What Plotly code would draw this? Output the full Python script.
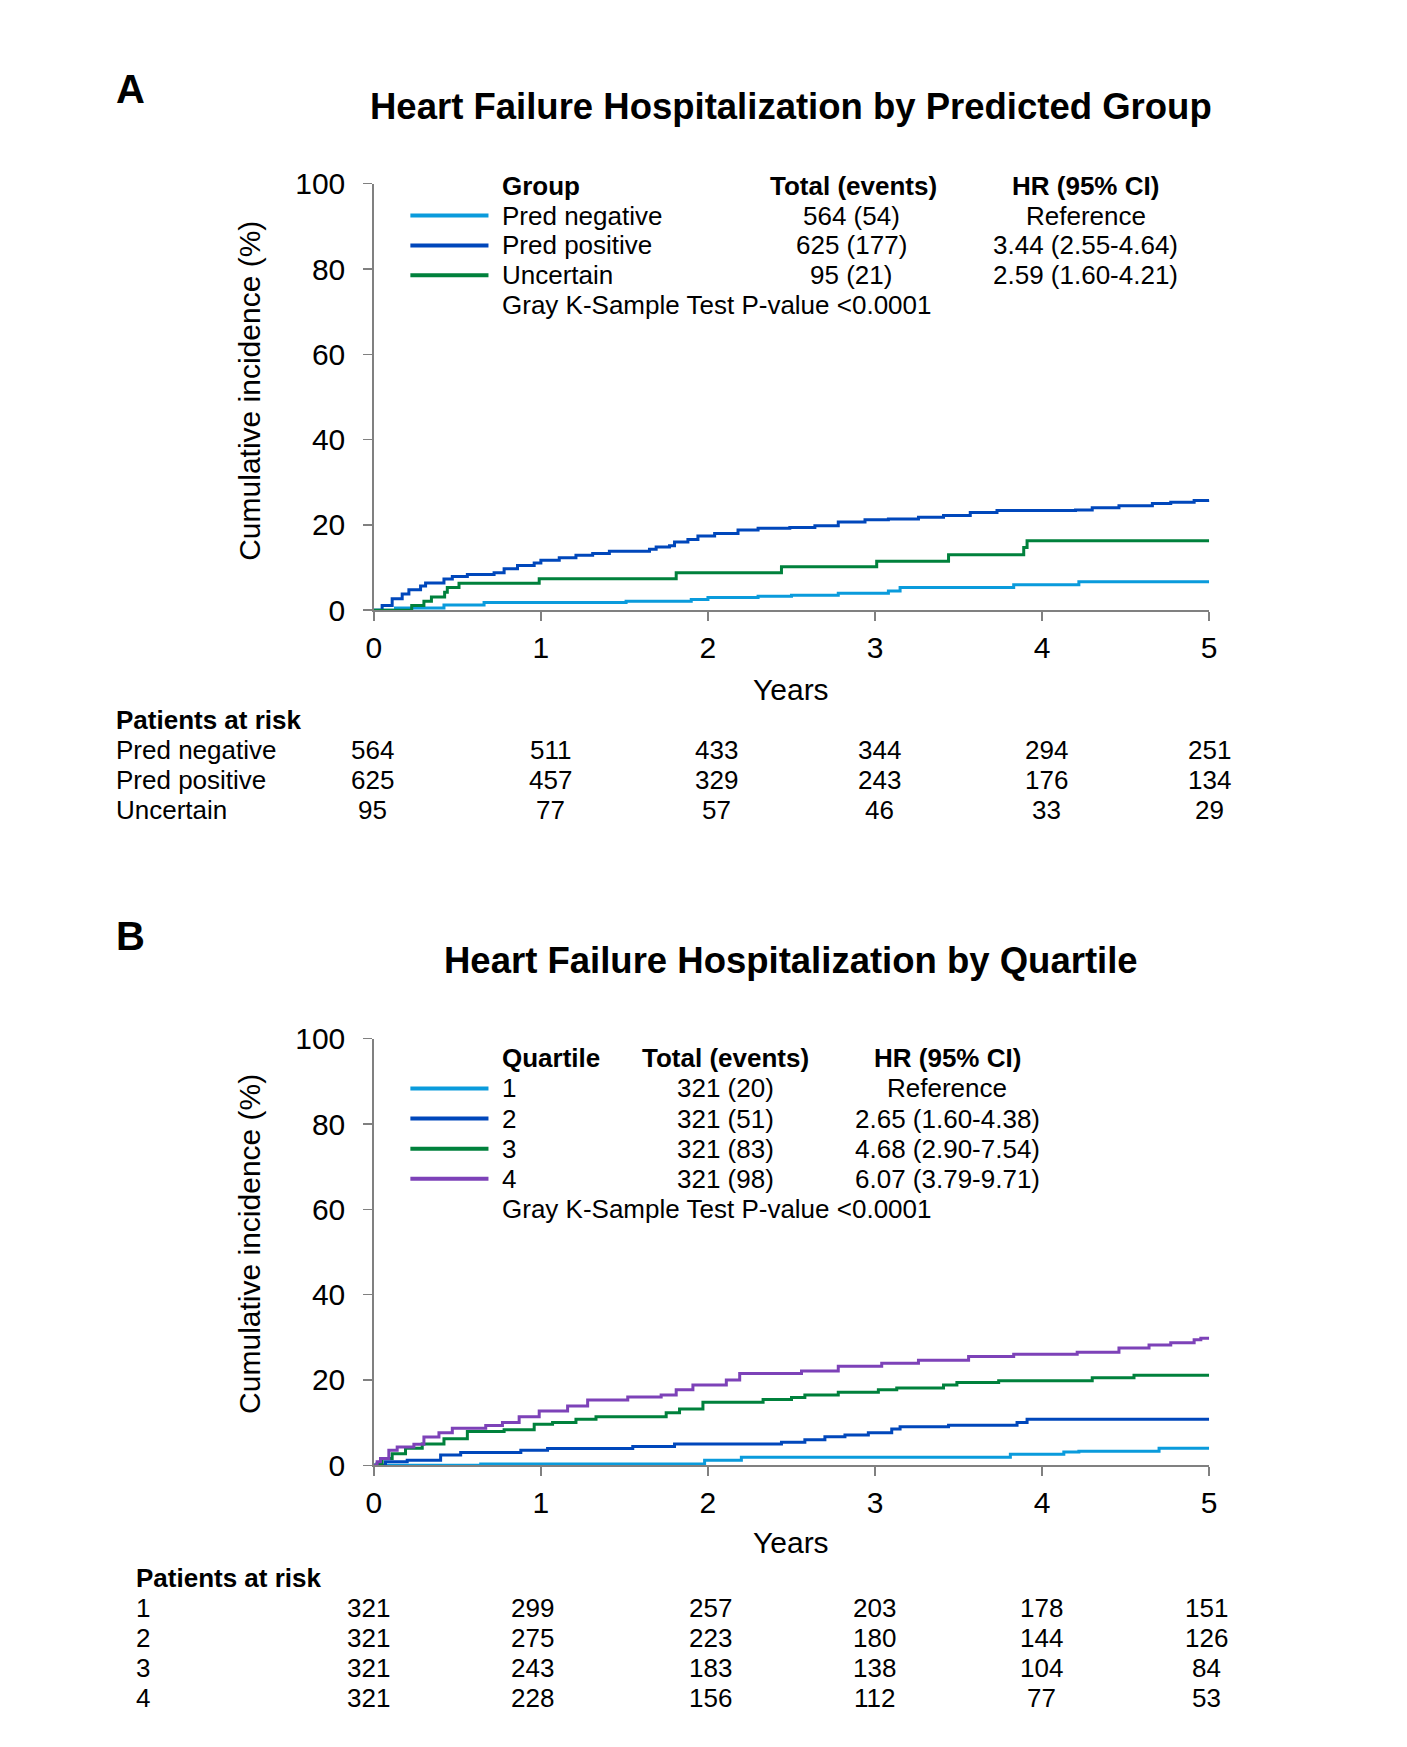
import plotly.graph_objects as go

W, H = 1407, 1747
FONT = "Liberation Sans, Arial, sans-serif"

# ---------------- data: panel A ----------------
years = [0, 1, 2, 3, 4, 5]
groups_a = ["Pred negative", "Pred positive", "Uncertain"]
totals_a = ["564 (54)", "625 (177)", "95 (21)"]
hr_a = ["Reference", "3.44 (2.55-4.64)", "2.59 (1.60-4.21)"]
risk_a = [
    [564, 511, 433, 344, 294, 251],
    [625, 457, 329, 243, 176, 134],
    [95, 77, 57, 46, 33, 29],
]
pred_neg_t = [0, 0.13, 0.42, 0.66, 1.51, 1.90, 2.00, 2.30, 2.50, 2.78, 3.08, 3.15, 3.83, 4.22, 5.0]
pred_neg_v = [0, 0.5, 1.2, 1.8, 2.1, 2.5, 3.0, 3.3, 3.5, 4.0, 4.5, 5.3, 6.0, 6.7, 6.7]
pred_pos_t = [0, 0.05, 0.11, 0.17, 0.21, 0.28, 0.31, 0.42, 0.47, 0.56, 0.72, 0.78, 0.86, 0.96, 1.00,
              1.11, 1.21, 1.31, 1.41, 1.65, 1.69, 1.77, 1.80, 1.88, 1.94, 2.04, 2.18, 2.30, 2.49, 2.64,
              2.78, 2.94, 3.08, 3.26, 3.41, 3.57, 3.73, 4.20, 4.30, 4.46, 4.66, 4.77, 4.91, 5.0]
pred_pos_v = [0, 1.1, 2.7, 3.8, 4.8, 5.7, 6.4, 7.3, 7.9, 8.4, 8.8, 9.7, 10.5, 11.1, 11.7,
              12.3, 12.9, 13.3, 13.8, 14.3, 14.8, 15.1, 16.0, 16.6, 17.4, 18.0, 18.8, 19.2, 19.4, 19.8,
              20.7, 21.2, 21.4, 21.8, 22.2, 22.9, 23.4, 23.5, 24.0, 24.5, 25.0, 25.3, 25.7, 25.8]
uncert_t = [0, 0.227, 0.30, 0.345, 0.424, 0.44, 0.51, 0.99, 1.81, 2.44, 3.01, 3.44, 3.89, 3.91, 5.0]
uncert_v = [0, 1.1, 2.1, 3.1, 4.2, 5.3, 6.3, 7.4, 8.8, 10.2, 11.5, 13.0, 14.7, 16.3, 16.3]

# ---------------- data: panel B ----------------
quartiles = ["1", "2", "3", "4"]
totals_b = ["321 (20)", "321 (51)", "321 (83)", "321 (98)"]
hr_b = ["Reference", "2.65 (1.60-4.38)", "4.68 (2.90-7.54)", "6.07 (3.79-9.71)"]
risk_b = [
    [321, 299, 257, 203, 178, 151],
    [321, 275, 223, 180, 144, 126],
    [321, 243, 183, 138, 104, 84],
    [321, 228, 156, 112, 77, 53],
]
q1_t = [0, 0.64, 1.98, 2.20, 3.81, 4.13, 4.22, 4.70, 5.0]
q1_v = [0, 0.3, 1.2, 1.9, 2.6, 3.1, 3.3, 4.0, 4.0]
q2_t = [0, 0.07, 0.20, 0.40, 0.52, 0.88, 1.04, 1.55, 1.80, 2.44, 2.58, 2.70, 2.82, 2.96, 3.10,
        3.15, 3.44, 3.85, 3.91, 5.0]
q2_v = [0, 0.8, 1.2, 2.4, 3.0, 3.5, 3.9, 4.4, 5.0, 5.4, 6.0, 6.7, 7.1, 7.6, 8.5,
        9.0, 9.4, 10.0, 10.8, 10.8]
q3_t = [0, 0.02, 0.05, 0.11, 0.19, 0.29, 0.42, 0.56, 0.78, 0.96, 1.07, 1.21, 1.33, 1.75, 1.83,
        1.97, 2.33, 2.50, 2.58, 2.78, 3.02, 3.13, 3.41, 3.49, 3.74, 4.30, 4.55, 5.0]
q3_v = [0, 0.4, 1.6, 2.7, 4.0, 5.0, 6.2, 7.9, 8.3, 9.6, 10.0, 10.8, 11.4, 12.3, 13.2,
        14.8, 15.4, 15.9, 16.5, 17.1, 17.7, 18.1, 18.8, 19.4, 19.8, 20.5, 21.1, 21.1]
q4_t = [0, 0.02, 0.04, 0.09, 0.14, 0.24, 0.30, 0.39, 0.47, 0.67, 0.77, 0.87, 0.99, 1.16, 1.28,
        1.52, 1.72, 1.81, 1.91, 2.11, 2.19, 2.56, 2.78, 3.04, 3.26, 3.56, 3.83, 4.21, 4.46, 4.64,
        4.77, 4.91, 4.95, 5.0]
q4_v = [0, 0.8, 1.6, 3.5, 4.3, 4.9, 6.6, 7.6, 8.7, 9.3, 10.0, 11.4, 12.7, 13.9, 15.3,
        16.0, 16.5, 17.7, 18.8, 20.0, 21.5, 22.1, 23.2, 23.9, 24.6, 25.5, 26.0, 26.5, 27.5, 28.2,
        28.7, 29.4, 29.8, 29.8]

# ---------------- styling ----------------
C_LIGHT = "#0A9BDC"
C_DARK = "#0047BB"
C_GREEN = "#00813C"
C_PURPLE = "#7D42B8"
AXIS_GRAY = "#808080"


def fx(px):
    return px / W


def fy(py):
    return 1 - py / H


fig = go.Figure()

series_a = [(pred_neg_t, pred_neg_v, C_LIGHT), (pred_pos_t, pred_pos_v, C_DARK), (uncert_t, uncert_v, C_GREEN)]
for (t, v, c), name in zip(series_a, groups_a):
    fig.add_trace(go.Scatter(x=t, y=v, mode="lines", line=dict(color=c, width=3, shape="hv"),
                             name=name, xaxis="x", yaxis="y", showlegend=False, hoverinfo="skip"))

series_b = [(q1_t, q1_v, C_LIGHT), (q2_t, q2_v, C_DARK), (q3_t, q3_v, C_GREEN), (q4_t, q4_v, C_PURPLE)]
for (t, v, c), name in zip(series_b, quartiles):
    fig.add_trace(go.Scatter(x=t, y=v, mode="lines", line=dict(color=c, width=3, shape="hv"),
                             name=name, xaxis="x2", yaxis="y2", showlegend=False, hoverinfo="skip"))

# plot areas (pixels)
X0, X1 = 370, 1215
A_TOP, A_BOT = 170, 605
B_TOP, B_BOT = 1042, 1477

axis_common = dict(showline=True, linecolor=AXIS_GRAY, linewidth=1.5, ticks="outside", ticklen=9,
                   tickcolor=AXIS_GRAY, tickwidth=1.5, showgrid=False, zeroline=False,
                   tickfont=dict(family=FONT, size=30, color="#000"))

fig.update_layout(
    width=W, height=H, margin=dict(l=0, r=0, t=0, b=0),
    paper_bgcolor="white", plot_bgcolor="white",
    xaxis=dict(domain=[fx(X0), fx(X1)], range=[0, 5], tickvals=years, anchor="y",
               ticklabelstandoff=1, **axis_common),
    yaxis=dict(domain=[fy(A_BOT), fy(A_TOP)], range=[0, 100], tickvals=[0, 20, 40, 60, 80, 100],
               anchor="x", ticklabelstandoff=12, **axis_common),
    xaxis2=dict(domain=[fx(X0), fx(X1)], range=[0, 5], tickvals=years, anchor="y2",
                ticklabelstandoff=1, **axis_common),
    yaxis2=dict(domain=[fy(B_BOT), fy(B_TOP)], range=[0, 100], tickvals=[0, 20, 40, 60, 80, 100],
                anchor="x2", ticklabelstandoff=12, **axis_common),
)

ann = []
shapes = []


def text(s, x, y, size=26, bold=False, xanchor="left", angle=0):
    ann.append(dict(text=f"<b>{s}</b>" if bold else s, x=fx(x), y=fy(y), xref="paper", yref="paper",
                    xanchor=xanchor, yanchor="middle", showarrow=False, textangle=angle,
                    font=dict(family=FONT, size=size, color="#000")))


# ---- Panel A ----
text("A", 124, 73, size=40, bold=True, xanchor="center")
text("Heart Failure Hospitalization by Predicted Group", 792, 91, size=36.5, bold=True, xanchor="center")
text("Cumulative incidence (%)", 244, 381, size=30, xanchor="center", angle=-90)
text("Years", 792, 686, size=30, xanchor="center")

LEG_A = 30.5
text("Group", 498, 172, bold=True)
text("Total (events)", 855, 172, bold=True, xanchor="center")
text("HR (95% CI)", 1090, 172, bold=True, xanchor="center")
colors_a = [C_LIGHT, C_DARK, C_GREEN]
for i, (g, tot, hr) in enumerate(zip(groups_a, totals_a, hr_a)):
    yy = 172 + LEG_A * (i + 1)
    shapes.append(dict(type="line", xref="paper", yref="paper", x0=fx(407), x1=fx(486), y0=fy(yy), y1=fy(yy),
                       line=dict(color=colors_a[i], width=4)))
    text(g, 498, yy)
    text(tot, 853, yy, xanchor="center")
    text(hr, 1090, yy, xanchor="center")
text("Gray K-Sample Test P-value <0.0001", 498, 172 + LEG_A * 4)

risk_cols_a = [369, 549, 717, 882, 1050, 1215]
text("Patients at risk", 107, 717, bold=True)
for i, g in enumerate(groups_a):
    yy = 717 + 30.5 * (i + 1)
    text(g, 107, yy)
    for xc, n in zip(risk_cols_a, risk_a[i]):
        text(str(n), xc, yy, xanchor="center")

# ---- Panel B ----
text("B", 124, 937, size=40, bold=True, xanchor="center")
text("Heart Failure Hospitalization by Quartile", 792, 962, size=36.5, bold=True, xanchor="center")
text("Cumulative incidence (%)", 244, 1251, size=30, xanchor="center", angle=-90)
text("Years", 792, 1556, size=30, xanchor="center")

text("Quartile", 498, 1062, bold=True)
text("Total (events)", 726, 1062, bold=True, xanchor="center")
text("HR (95% CI)", 950, 1062, bold=True, xanchor="center")
colors_b = [C_LIGHT, C_DARK, C_GREEN, C_PURPLE]
for i, (q, tot, hr) in enumerate(zip(quartiles, totals_b, hr_b)):
    yy = 1062 + 30.7 * (i + 1)
    shapes.append(dict(type="line", xref="paper", yref="paper", x0=fx(407), x1=fx(486), y0=fy(yy), y1=fy(yy),
                       line=dict(color=colors_b[i], width=4)))
    text(q, 498, yy)
    text(tot, 726, yy, xanchor="center")
    text(hr, 950, yy, xanchor="center")
text("Gray K-Sample Test P-value <0.0001", 498, 1062 + 30.7 * 5)

risk_cols_b = [365, 531, 711, 876, 1045, 1212]
text("Patients at risk", 127, 1592, bold=True)
for i, q in enumerate(quartiles):
    yy = 1592 + 30.5 * (i + 1)
    text(q, 127, yy)
    for xc, n in zip(risk_cols_b, risk_b[i]):
        text(str(n), xc, yy, xanchor="center")

fig.update_layout(annotations=ann, shapes=shapes, hovermode=False)
fig.write_html(
    "out.html",
    config={"displayModeBar": False, "staticPlot": True},
    post_script="document.body.style.margin='0';document.body.style.overflow='hidden';",
)
